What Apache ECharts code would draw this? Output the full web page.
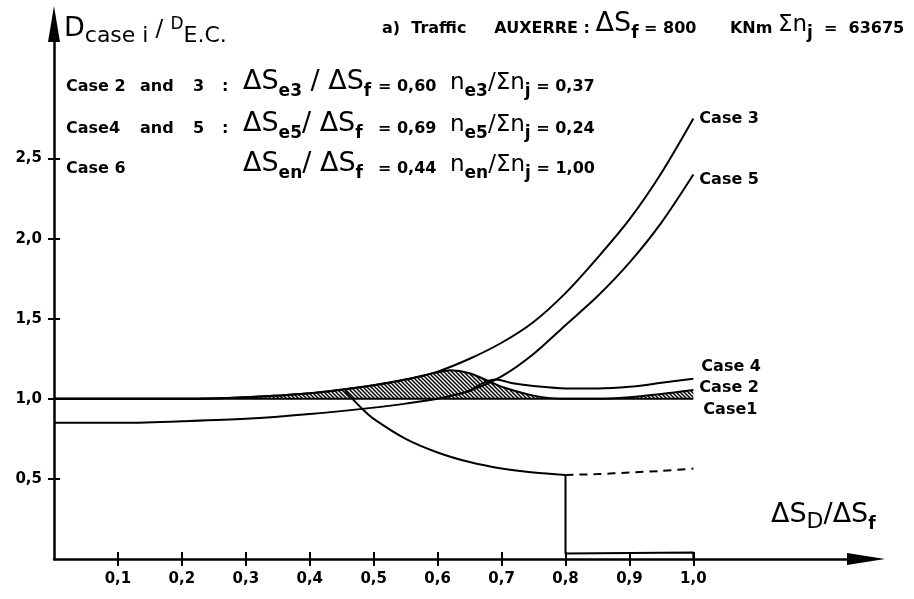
<!DOCTYPE html>
<html><head><meta charset="utf-8">
<script src="https://cdn.jsdelivr.net/npm/echarts@6/dist/echarts.min.js"></script>
<style>html,body{margin:0;padding:0;background:#fff}#c{width:914px;height:599px}</style>
</head><body><div id="c"></div>
<script>
// ---- data ----
const xTicks = [0.1,0.2,0.3,0.4,0.5,0.6,0.7,0.8,0.9,1.0];
const yTicks = [0.5,1.0,1.5,2.0,2.5];
const case1 = [[0,1.0],[1.0,1.0]];
const case2 = [[0,1.0],[0.1,1.0],[0.2,1.0],[0.3,1.01],[0.4,1.035],[0.5,1.085],[0.55,1.12],[0.6,1.165],[0.62,1.178],[0.65,1.16],[0.68,1.11],[0.7,1.075],[0.75,1.02],[0.8,1.0],[0.85,1.0],[0.9,1.01],[0.95,1.03],[1.0,1.055]];
const case3 = [[0,1.0],[0.1,1.0],[0.2,1.0],[0.3,1.01],[0.4,1.035],[0.5,1.085],[0.55,1.12],[0.6,1.17],[0.65,1.25],[0.7,1.35],[0.75,1.48],[0.8,1.66],[0.85,1.88],[0.9,2.12],[0.95,2.41],[1.0,2.75]];
const case4 = [[0.65,1.05],[0.69,1.12],[0.72,1.095],[0.75,1.08],[0.8,1.065],[0.85,1.065],[0.9,1.075],[0.95,1.1],[1.0,1.125]];
const case5 = [[0,0.85],[0.1,0.85],[0.2,0.86],[0.3,0.875],[0.4,0.905],[0.5,0.945],[0.55,0.97],[0.6,1.0],[0.65,1.05],[0.7,1.14],[0.75,1.28],[0.8,1.46],[0.85,1.64],[0.9,1.85],[0.95,2.10],[1.0,2.40]];
const case6 = [[0.455,1.05],[0.484,0.93],[0.5,0.875],[0.55,0.75],[0.6,0.665],[0.65,0.605],[0.7,0.565],[0.75,0.54],[0.8,0.525]];
const case6Dashed = [[0.8,0.525],[0.85,0.53],[0.9,0.54],[0.95,0.55],[1.0,0.565]];
const case6Drop = [[0.8,0.525],[0.8,0.035],[1.0,0.04],[1.0,0]];
const caseLabels = {c1:'Case1', c2:'Case 2', c3:'Case 3', c4:'Case 4', c5:'Case 5'};
const fmt = v => v.toFixed(1).replace('.', ',');

// ---- style helpers ----
const FF = 'DejaVu Sans';
const K = '#000';
function hatch(){
  const c = document.createElement('canvas'); c.width = 4; c.height = 4;
  const g = c.getContext('2d'); g.strokeStyle = '#000'; g.lineWidth = 1.5;
  g.beginPath(); g.moveTo(-1,-1); g.lineTo(5,5); g.moveTo(-1,3); g.lineTo(1,5); g.moveTo(3,-1); g.lineTo(5,1); g.stroke();
  return c;
}
const R = {
  big:{fontFamily:FF,fontSize:27,color:K,verticalAlign:'bottom',padding:[0,0,5,0]},
  mid:{fontFamily:FF,fontSize:23,color:K,verticalAlign:'bottom',padding:[0,0,5,0]},
  n:{fontFamily:FF,fontSize:16,fontWeight:'bold',color:K,verticalAlign:'bottom',padding:[0,0,5,0]},
  m:{fontFamily:FF,fontSize:16,fontWeight:'bold',color:K,verticalAlign:'bottom',padding:[0,0,5,0]},
  s:{fontFamily:FF,fontSize:17,fontWeight:'bold',color:K,verticalAlign:'bottom',padding:[0,0,0,0]},
  sup:{fontFamily:FF,fontSize:17,color:K,verticalAlign:'bottom',padding:[0,0,14,0]},
  yt:{fontFamily:FF,fontSize:22,color:K,verticalAlign:'bottom',padding:[0,0,0,0]}
};
function txt(x, y, text, align){
  align = align || 'left';
  return {type:'text', x:x, y:y, z:100, style:{text:text, rich:R, align:align, verticalAlign:'bottom', textAlign:align, textVerticalAlign:'bottom', fill:K, font:'16px '+FF}};
}
const graphics = [
  txt(64, 47, '{big|D}{yt|case i }{mid|/ }{sup|D}{yt|E.C.}'),
  txt(382, 42, '{n|a)  Traffic     AUXERRE : }{big|ΔS}{s|f}{m| = 800      KNm }{mid|Σn}{s|j}{m|  =  63675}'),
  txt(66, 100, '{n|Case 2}'), txt(140, 100, '{n|and}'), txt(193, 100, '{n|3}'), txt(222, 100, '{n|:}'),
  txt(66, 142, '{n|Case4}'), txt(140, 142, '{n|and}'), txt(193, 142, '{n|5}'), txt(222, 142, '{n|:}'),
  txt(66, 182, '{n|Case 6}'),
  txt(243, 100, '{big|ΔS}{s|e3}{big| / ΔS}{s|f}'),
  txt(243, 142, '{big|ΔS}{s|e5}{big|/ ΔS}{s|f}'),
  txt(243, 182, '{big|ΔS}{s|en}{big|/ ΔS}{s|f}'),
  txt(378, 100, '{n|= 0,60}'),
  txt(378, 142, '{n|= 0,69}'),
  txt(378, 182, '{n|= 0,44}'),
  txt(450, 100, '{mid|n}{s|e3}{mid|/Σn}{s|j}{n| = 0,37}'),
  txt(450, 142, '{mid|n}{s|e5}{mid|/Σn}{s|j}{n| = 0,24}'),
  txt(450, 182, '{mid|n}{s|en}{mid|/Σn}{s|j}{n| = 1,00}'),
  txt(771, 533, '{big|ΔS}{yt|D}{big|/ΔS}{s|f}')
];

function line(name, data, extra){
  return Object.assign({name:name, type:'line', data:data, showSymbol:false, symbol:'none', smooth:0.3,
    lineStyle:{color:K, width:2}, silent:true, z:5}, extra||{});
}
function endLab(text, dx, dy){
  return {show:true, formatter:text, offset:[dx,dy], color:K, fontFamily:FF, fontSize:16, fontWeight:'bold', distance:4};
}
const tickCommon = {customValues:xTicks, length:7, lineStyle:{color:K, width:2}};
const option = {
  animation:false,
  backgroundColor:'#fff',
  grid:{left:54, right:48, top:24, bottom:40, containLabel:false},
  xAxis:[
    {type:'value', min:0, max:1.27, position:'bottom',
     axisLine:{show:true, symbol:['none','triangle'], symbolSize:[12,38], lineStyle:{color:K, width:2.5}},
     axisTick:Object.assign({show:true, inside:false}, tickCommon),
     axisLabel:{customValues:xTicks, formatter:fmt, color:K, fontFamily:FF, fontSize:15, fontWeight:'bold', margin:13},
     splitLine:{show:false}},
    {type:'value', min:0, max:1.27, position:'bottom',
     axisLine:{show:false}, axisTick:Object.assign({show:true, inside:true}, tickCommon),
     axisLabel:{show:false}, splitLine:{show:false}}
  ],
  yAxis:[
    {type:'value', min:0, max:3.34, position:'left',
     axisLine:{show:true, symbol:['none','triangle'], symbolSize:[12,36], lineStyle:{color:K, width:2.5}},
     axisTick:{show:true, inside:false, customValues:yTicks, length:6, lineStyle:{color:K, width:2}},
     axisLabel:{customValues:yTicks, formatter:fmt, color:K, fontFamily:FF, fontSize:15, fontWeight:'bold', margin:12},
     splitLine:{show:false}},
    {type:'value', min:0, max:3.34, position:'left',
     axisLine:{show:false}, axisTick:{show:true, inside:true, customValues:yTicks, length:6, lineStyle:{color:K, width:2}},
     axisLabel:{show:false}, splitLine:{show:false}}
  ],
  graphic:graphics,
  series:[
    line('Case 2', case2, {areaStyle:{origin:1, color:{image:hatch(), repeat:'repeat'}, opacity:1}, endLabel:endLab(caseLabels.c2, 2, -2), z:4}),
    line('Case 1', case1, {smooth:false, endLabel:endLab(caseLabels.c1, 6, 11)}),
    line('Case 3', case3, {endLabel:endLab(caseLabels.c3, 2, 0)}),
    line('Case 5', case5, {endLabel:endLab(caseLabels.c5, 2, 5)}),
    line('Case 4', case4, {endLabel:endLab(caseLabels.c4, 4, -12)}),
    line('Case 6', case6),
    line('Case 6 dashed', case6Dashed, {lineStyle:{color:K, width:2, type:[8,6]}}),
    line('Case 6 drop', case6Drop, {smooth:false})
  ]
};
echarts.init(document.getElementById('c')).setOption(option);
</script></body></html>
